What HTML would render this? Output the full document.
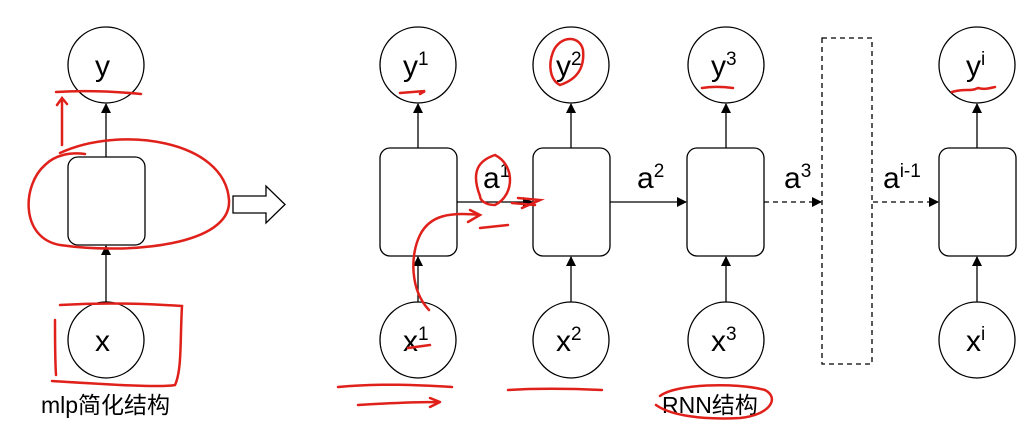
<!DOCTYPE html>
<html><head><meta charset="utf-8"><style>
html,body{margin:0;padding:0;background:#fff;}
svg{display:block;}
text{font-family:"Liberation Sans","Noto Sans CJK SC",sans-serif;fill:#000;}
</style></head><body>
<svg width="1034" height="428" viewBox="0 0 1034 428" xmlns="http://www.w3.org/2000/svg">
<defs>
<marker id="ah" markerWidth="10" markerHeight="10" refX="9" refY="5" orient="auto" markerUnits="userSpaceOnUse">
<path d="M0,0 L10,5 L0,10 z" fill="#000"/></marker>
</defs>
<g fill="none" stroke="#000" stroke-width="1.3">
<circle cx="106" cy="65" r="38" fill="#fff"/>
<circle cx="106" cy="340" r="38" fill="#fff"/>
<rect x="68" y="157" width="77" height="88" rx="10" fill="#fff"/>
<line x1="106" y1="302" x2="106" y2="246" marker-end="url(#ah)"/>
<line x1="106" y1="157" x2="106" y2="104" marker-end="url(#ah)"/>
<path d="M233,196 L266,196 L266,186 L285,204.5 L266,223 L266,213 L233,213 z" fill="#fff"/>
<circle cx="418" cy="65" r="38"/><circle cx="418" cy="340" r="38"/>
<rect x="380" y="148" width="77" height="108" rx="10"/>
<line x1="418" y1="302" x2="418" y2="257" marker-end="url(#ah)"/>
<line x1="418" y1="148" x2="418" y2="104" marker-end="url(#ah)"/>
<circle cx="571" cy="65" r="38"/><circle cx="571" cy="340" r="38"/>
<rect x="533" y="148" width="77" height="108" rx="10"/>
<line x1="571" y1="302" x2="571" y2="257" marker-end="url(#ah)"/>
<line x1="571" y1="148" x2="571" y2="104" marker-end="url(#ah)"/>
<circle cx="726" cy="65" r="38"/><circle cx="726" cy="340" r="38"/>
<rect x="687" y="148" width="77" height="108" rx="10"/>
<line x1="726" y1="302" x2="726" y2="257" marker-end="url(#ah)"/>
<line x1="726" y1="148" x2="726" y2="104" marker-end="url(#ah)"/>
<circle cx="977" cy="65" r="38"/><circle cx="977" cy="340" r="38"/>
<rect x="939" y="148" width="77" height="108" rx="10"/>
<line x1="977" y1="302" x2="977" y2="257" marker-end="url(#ah)"/>
<line x1="977" y1="148" x2="977" y2="104" marker-end="url(#ah)"/>
<line x1="457" y1="202" x2="532" y2="202" marker-end="url(#ah)"/>
<line x1="610" y1="202" x2="686" y2="202" marker-end="url(#ah)"/>
<line x1="764" y1="202" x2="821" y2="202" stroke-dasharray="5,4" marker-end="url(#ah)"/>
<line x1="873" y1="202" x2="938" y2="202" stroke-dasharray="5,4" marker-end="url(#ah)"/>
<rect x="822" y="38" width="50" height="326" stroke-dasharray="5,4"/>
</g>
<g font-size="30">
<text x="95" y="76">y</text>
<text x="95" y="351">x</text>
<text x="403" y="76">y<tspan font-size="19" dy="-11">1</tspan></text>
<text x="556" y="76">y<tspan font-size="19" dy="-11">2</tspan></text>
<text x="711" y="76">y<tspan font-size="19" dy="-11">3</tspan></text>
<text x="966" y="76">y<tspan font-size="19" dy="-11">i</tspan></text>
<text x="403" y="351">x<tspan font-size="19" dy="-11">1</tspan></text>
<text x="556" y="351">x<tspan font-size="19" dy="-11">2</tspan></text>
<text x="711" y="351">x<tspan font-size="19" dy="-11">3</tspan></text>
<text x="966" y="351">x<tspan font-size="19" dy="-11">i</tspan></text>
<text x="483" y="188">a<tspan font-size="19" dy="-11">1</tspan></text>
<text x="637" y="188">a<tspan font-size="19" dy="-11">2</tspan></text>
<text x="784" y="188">a<tspan font-size="19" dy="-11">3</tspan></text>
<text x="883" y="188">a<tspan font-size="19" dy="-11">i-1</tspan></text>
</g>
<text x="41" y="413" font-size="23">mlp简化结构</text>
<text x="662" y="413" font-size="23">RNN结构</text>
<g fill="none" stroke="#e0201a" stroke-width="2.5" stroke-linecap="round">
<path d="M56,92 C90,90 120,92 141,94"/>
<path d="M62,145 L62,100 M57,105 L62,98 L67,104"/>
<path d="M60,153 C120,125 225,140 229,200 C232,245 130,255 60,245 C20,238 22,185 45,165 C55,155 70,152 85,154"/>
<path d="M60,305 C110,302 150,304 182,306 C180,340 182,370 175,385 C160,388 100,384 52,381 M55,320 C55,340 55,360 56,375"/>
<path d="M400,93 L425,91 L420,94"/>
<path d="M408,348 L430,345"/>
<path d="M429,310 C410,290 410,255 420,235 C430,215 450,212 480,215 M470,210 L480,215 L468,222"/>
<path d="M480,228 L508,225 M480,196 C470,170 480,160 495,155 C515,165 515,195 495,205 C485,205 480,200 480,196"/>
<path d="M518,198 L540,200 L522,208 M512,203 L535,205"/>
<path d="M553,52 C560,35 580,35 583,50 C585,70 575,80 560,85 C550,80 548,65 553,52"/>
<path d="M702,88 C715,86 725,87 733,88"/>
<path d="M952,92 C965,88 970,92 978,88 C985,90 990,88 995,87"/>
<path d="M338,387 C380,383 420,385 452,387 M358,405 C390,403 420,402 440,402 L430,398 M440,402 L430,407"/>
<path d="M508,390 C540,388 580,389 602,390"/>
<path d="M660,396 C675,384 735,382 765,390 C780,398 770,415 740,418 C700,420 670,415 656,405"/>
</g>
</svg>
</body></html>
